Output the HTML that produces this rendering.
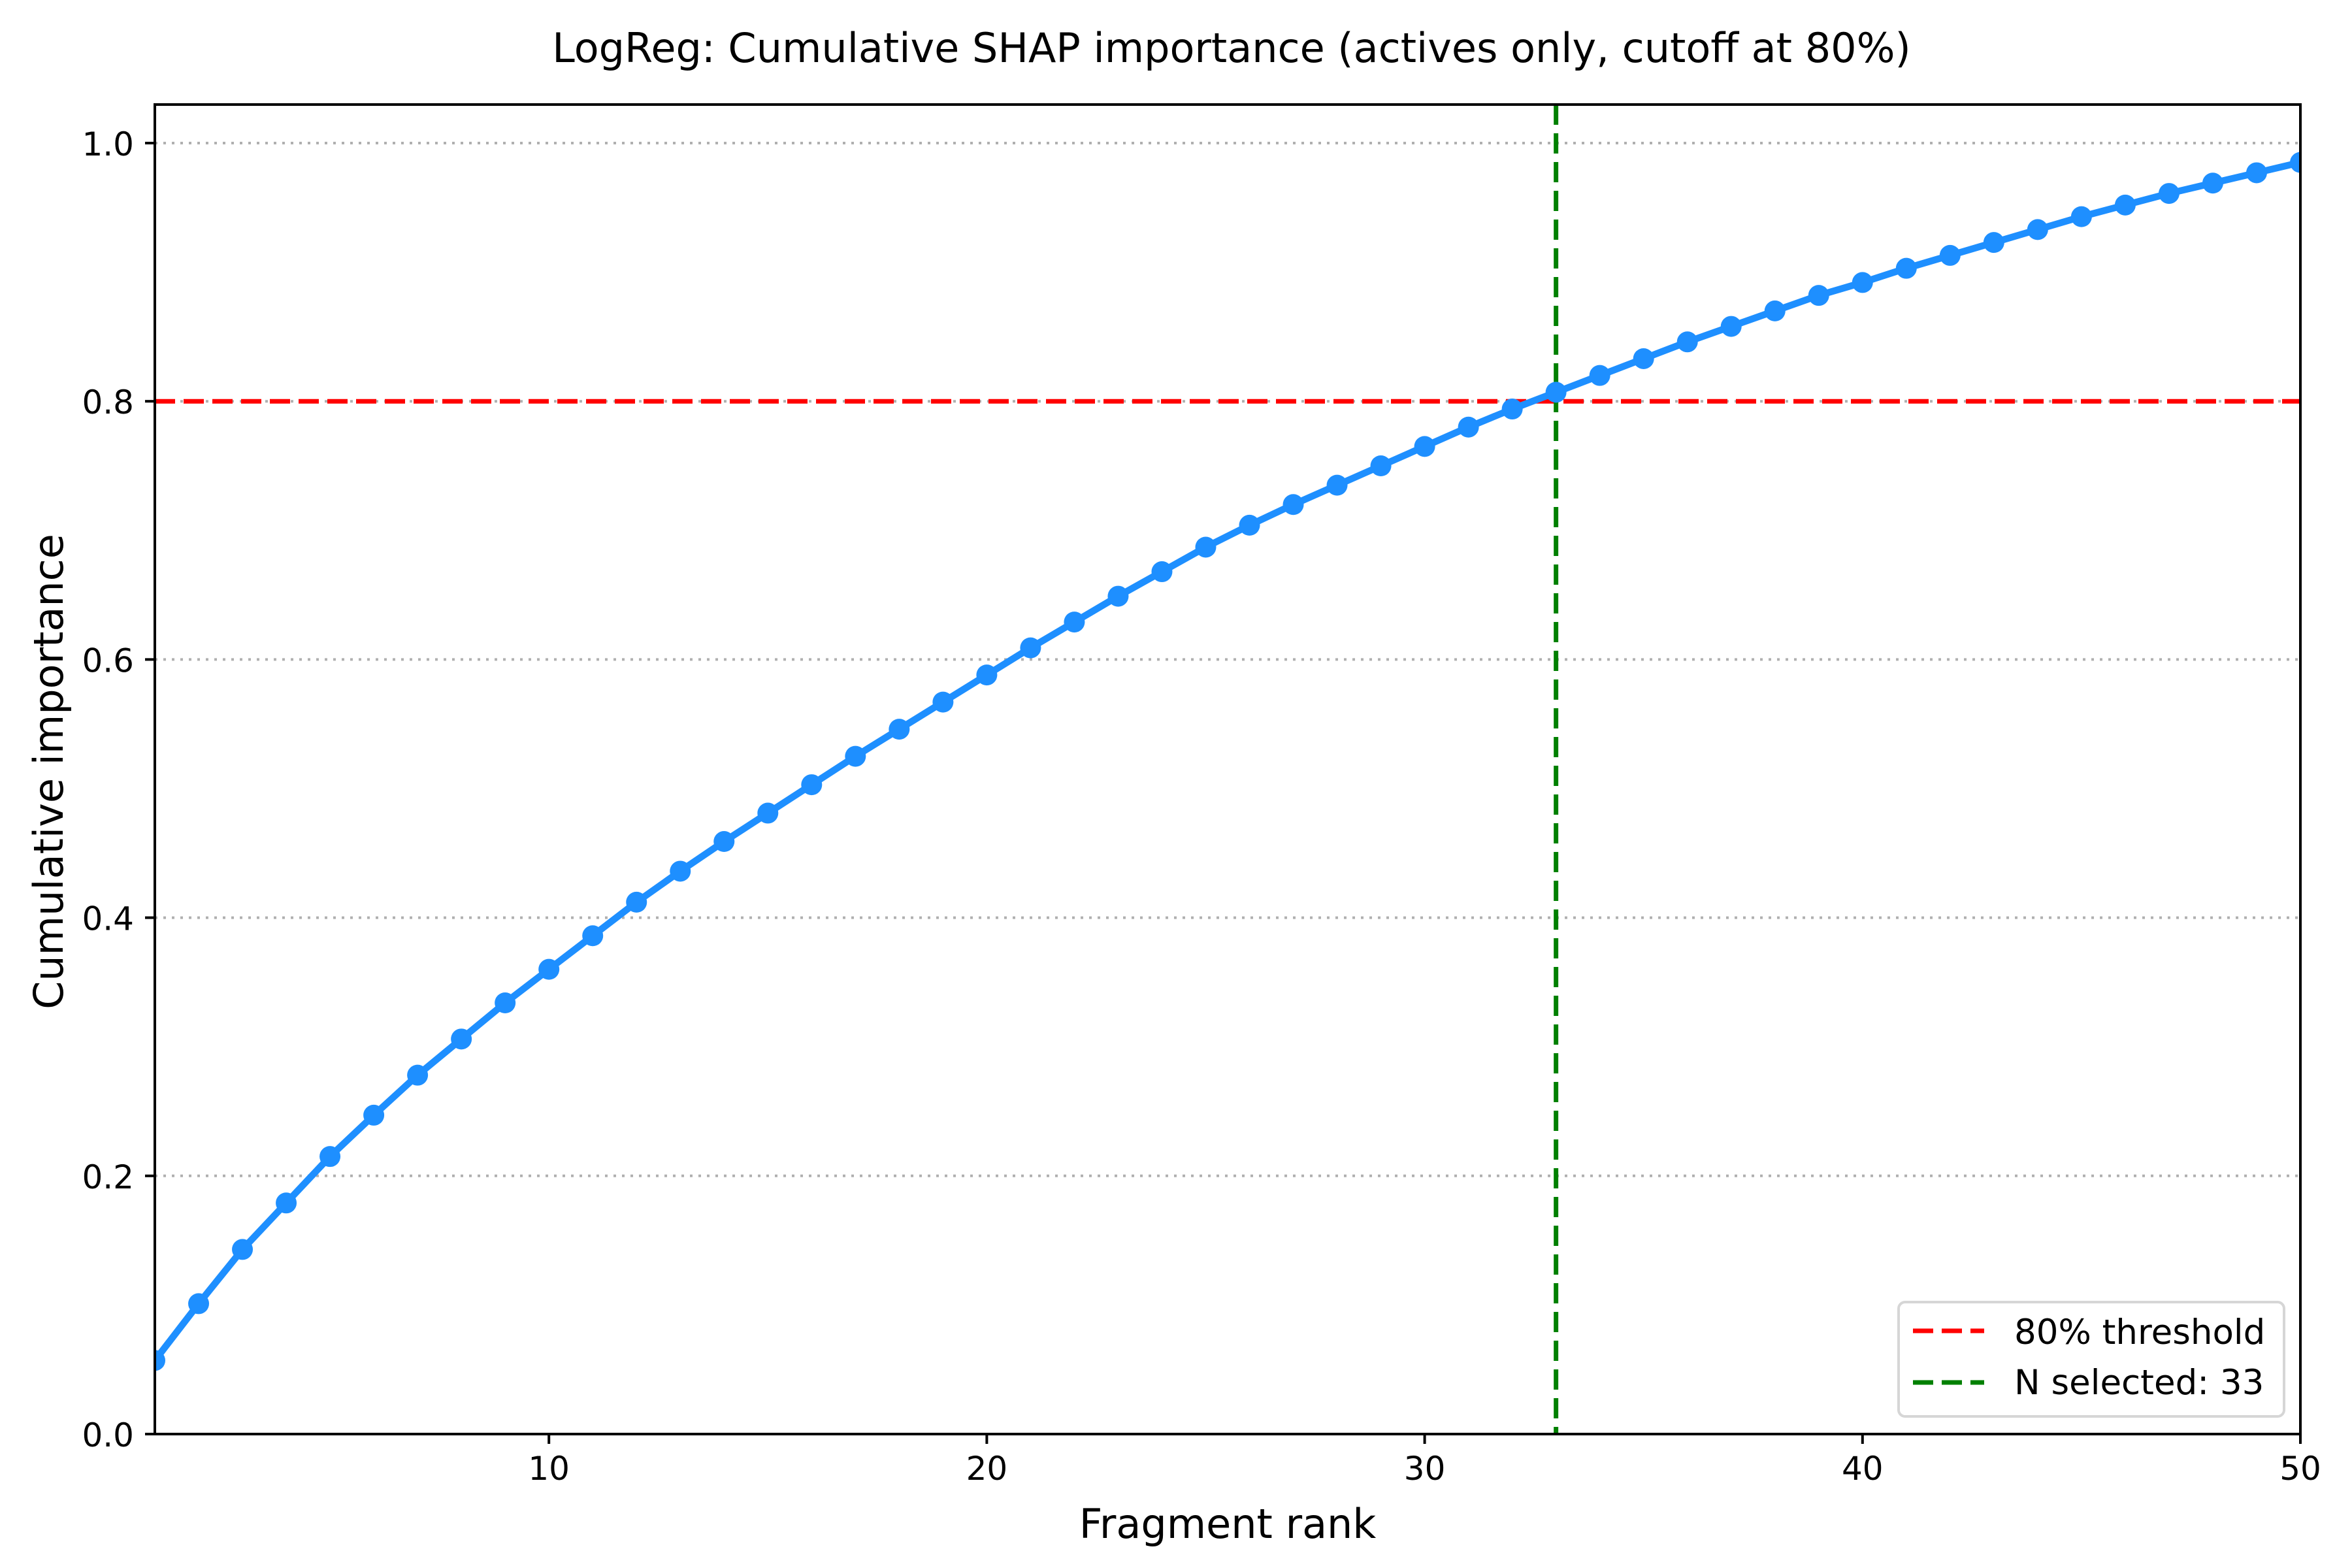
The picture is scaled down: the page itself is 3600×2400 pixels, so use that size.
<!DOCTYPE html>
<html><head><meta charset="utf-8"><style>html,body{margin:0;padding:0;background:#fff}svg{display:block}text{font-family:"DejaVu Sans","Liberation Sans",sans-serif;fill:#000}</style></head>
<body>
<svg id="chart" width="3600" height="2400" viewBox="0 0 3600 2400" xmlns="http://www.w3.org/2000/svg">
<rect width="3600" height="2400" fill="#fff"/>
<text x="1885" y="95" font-size="62" text-anchor="middle">LogReg: Cumulative SHAP importance (actives only, cutoff at 80%)</text>
<g id="grid"></g><g id="marks"></g><g id="axes"></g>
<text x="1879" y="2354" font-size="62" text-anchor="middle">Fragment rank</text>
<text transform="translate(96,1181) rotate(-90)" font-size="62" text-anchor="middle">Cumulative importance</text>
<g>
<rect x="2906" y="1993" width="590" height="175" rx="10" fill="#fff" fill-opacity="0.8" stroke="#d6d6d6" stroke-width="4"/>
<line x1="2928" y1="2037" x2="3037" y2="2037" stroke="#ff0000" stroke-width="7" stroke-dasharray="31,13"/>
<text x="3083" y="2057" font-size="53">80% threshold</text>
<line x1="2928" y1="2116" x2="3037" y2="2116" stroke="#008000" stroke-width="7" stroke-dasharray="31,13"/>
<text x="3083" y="2134" font-size="53">N selected: 33</text>
</g>
</svg>
<script>
const ranks = [];
for (let i = 1; i <= 50; i++) ranks.push(i);
const cumImportance = [0.057,0.101,0.143,0.179,0.215,0.247,0.278,0.306,0.334,0.360,0.386,0.412,0.436,0.459,0.481,0.503,0.525,0.546,0.567,0.588,0.609,0.629,0.649,0.668,0.687,0.704,0.720,0.735,0.750,0.765,0.780,0.794,0.807,0.820,0.833,0.846,0.858,0.870,0.882,0.892,0.903,0.913,0.923,0.933,0.943,0.952,0.961,0.969,0.977,0.985];
const xTicks = [10,20,30,40,50];
const yTicks = [0.0,0.2,0.4,0.6,0.8,1.0];
const threshold = 0.8;
const nSelected = 33;

const L=237,R=3521,T=160,B=2195;
const xMin=1,xMax=50;
const y0=2195,y1=219;
function sx(v){return L+(v-xMin)/(xMax-xMin)*(R-L);}
function sy(v){return y0+v*(y1-y0);}
const NS="http://www.w3.org/2000/svg";
function mk(tag,attrs,parent){const e=document.createElementNS(NS,tag);for(const k in attrs)e.setAttribute(k,attrs[k]);parent.appendChild(e);return e;}
const grid=document.getElementById('grid'),marks=document.getElementById('marks'),axes=document.getElementById('axes');
yTicks.forEach(v=>{ if(v===0) return;
  const g=mk('line',{x1:L,x2:R,y1:sy(v),y2:sy(v),stroke:'#b0b0b0','stroke-width':4,'stroke-dasharray':'4,9'},grid);
  
  
});
const cp=mk('clipPath',{id:'clip'},marks);mk('rect',{x:L,y:T,width:R-L,height:B-T},cp);
const mg=mk('g',{'clip-path':'url(#clip)'},marks);
const th=mk('line',{x1:L,x2:R,y1:sy(threshold),y2:sy(threshold),stroke:'#ff0000','stroke-width':7,'stroke-dasharray':'31,13'},mg);


const vs=mk('line',{x1:sx(nSelected),x2:sx(nSelected),y1:T,y2:B,stroke:'#008000','stroke-width':7,'stroke-dasharray':'31,13'},mg);


const pts=ranks.map((r,i)=>sx(r)+','+sy(cumImportance[i])).join(' ');
const pl=mk('polyline',{points:pts,fill:'none',stroke:'#1e8fff','stroke-width':10.5,'stroke-linejoin':'round'},mg);


ranks.forEach((r,i)=>{
  const c=mk('circle',{cx:sx(r),cy:sy(cumImportance[i]),r:16,fill:'#1e8fff'},mg);
  
  
});
const fr=mk('rect',{x:L,y:T,width:R-L,height:B-T,fill:'none',stroke:'#000','stroke-width':4},axes);


xTicks.forEach(v=>{
  mk('line',{x1:sx(v),x2:sx(v),y1:B,y2:B+15,stroke:'#000','stroke-width':4},axes);
  const t=mk('text',{x:sx(v),y:B+70,'font-size':50,'text-anchor':'middle'},axes);t.textContent=v;
  
  
});
yTicks.forEach(v=>{
  mk('line',{x1:L-15,x2:L,y1:sy(v),y2:sy(v),stroke:'#000','stroke-width':4},axes);
  const t=mk('text',{x:L-32,y:sy(v)+19,'font-size':50,'text-anchor':'end'},axes);t.textContent=v.toFixed(1);
  
  
});
</script>
</body></html>
